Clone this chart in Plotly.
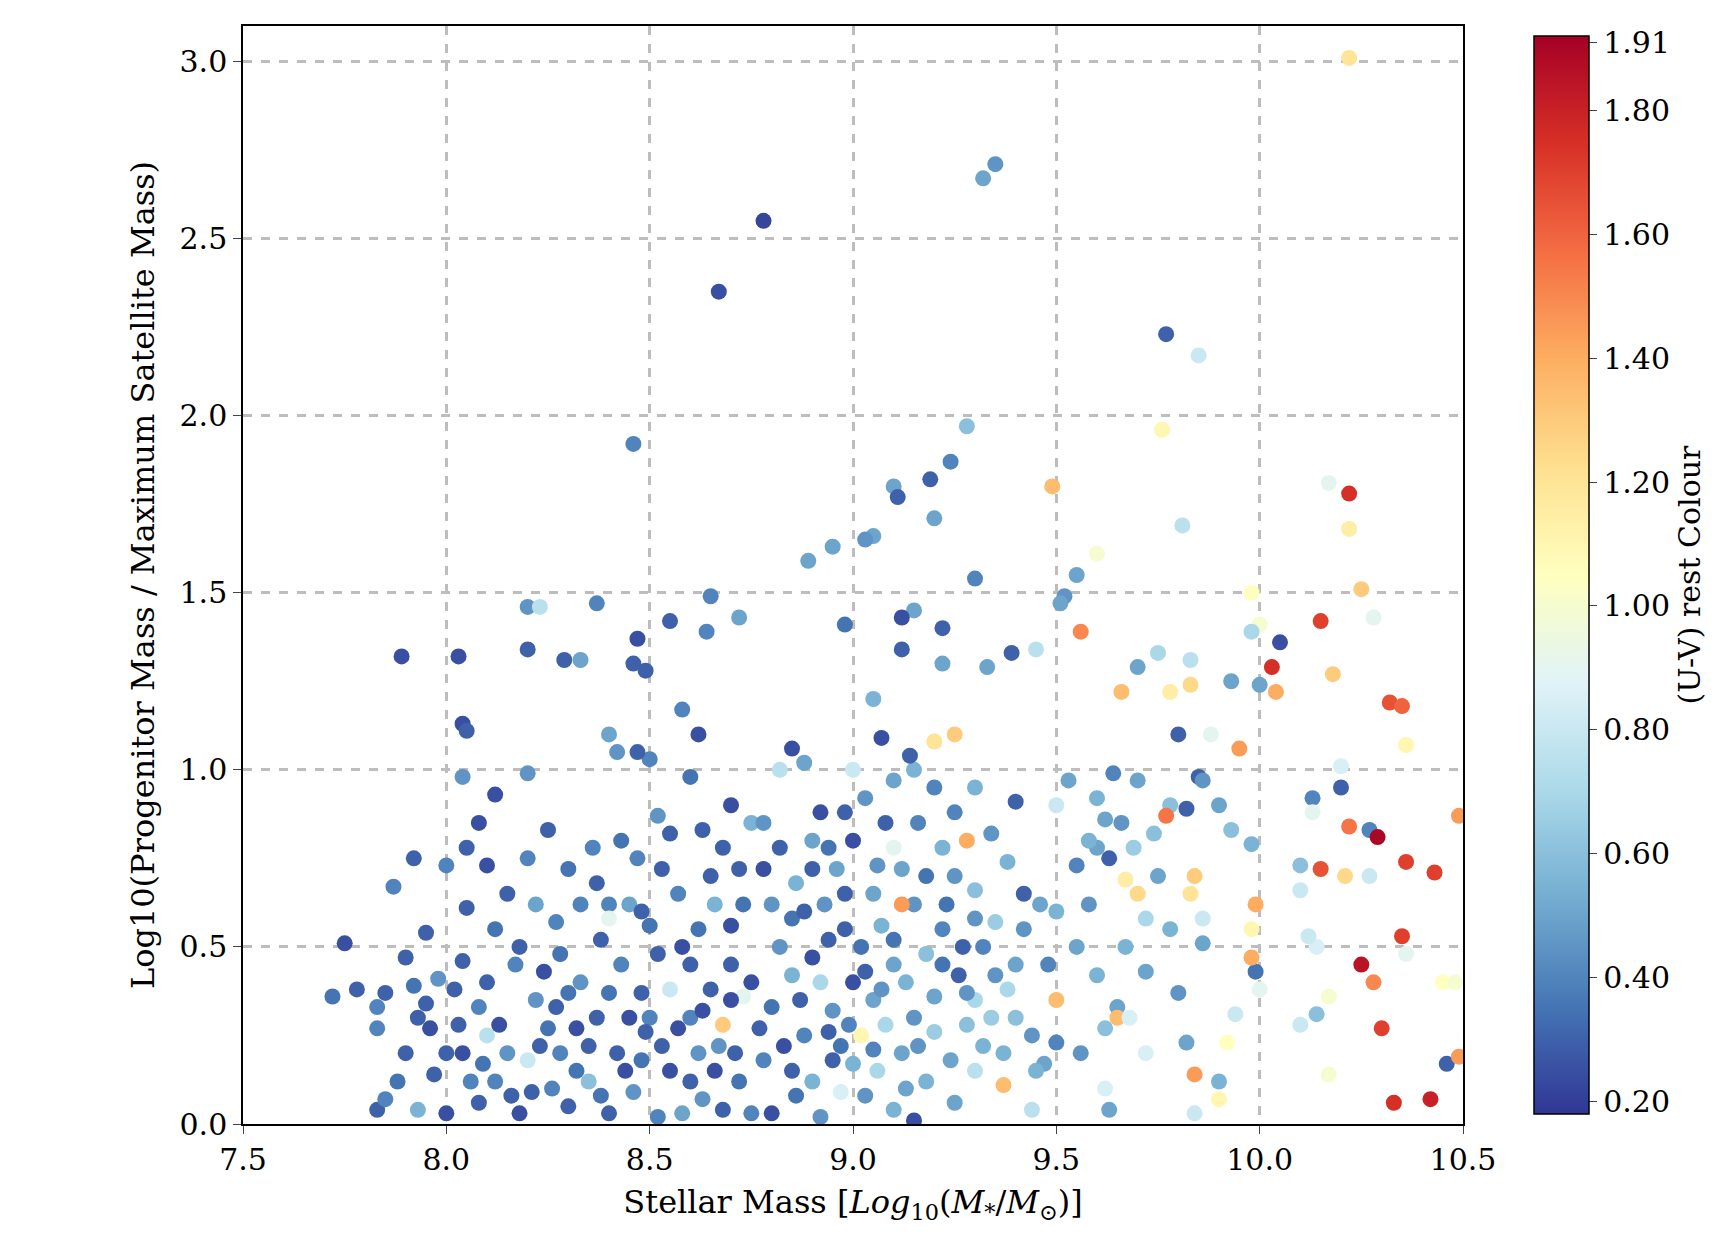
import plotly.graph_objects as go

# (stellar mass, log10 progenitor/sat mass ratio, U-V colour)
pts = [
(10.22,3.01,1.2),(9.35,2.71,0.45),(9.32,2.67,0.5),(8.78,2.55,0.22),(8.67,2.35,0.25),(9.77,2.23,0.3),(9.85,2.17,0.8),(8.46,1.92,0.4),(9.28,1.97,0.6),(9.76,1.96,1.1),
(9.24,1.87,0.4),(9.19,1.82,0.3),(9.1,1.8,0.5),(9.11,1.77,0.3),(10.22,1.78,1.75),(10.17,1.81,0.9),(9.2,1.71,0.5),(9.81,1.69,0.75),(10.22,1.68,1.15),(9.05,1.66,0.5),
(9.03,1.65,0.45),(8.95,1.63,0.5),(9.6,1.61,1.0),(8.89,1.59,0.5),(9.49,1.8,1.35),(9.3,1.54,0.4),(9.55,1.55,0.5),(9.15,1.45,0.5),(9.12,1.43,0.25),(8.98,1.41,0.35),
(8.65,1.49,0.4),(8.72,1.43,0.5),(8.37,1.47,0.4),(8.2,1.46,0.45),(8.23,1.46,0.75),(8.47,1.37,0.25),(8.55,1.42,0.3),(8.64,1.39,0.4),(8.2,1.34,0.3),(8.29,1.31,0.3),
(8.33,1.31,0.5),(8.46,1.3,0.3),(8.49,1.28,0.3),(7.89,1.32,0.25),(8.03,1.32,0.25),(9.22,1.4,0.3),(9.52,1.49,0.45),(9.51,1.47,0.5),(9.56,1.39,1.5),(9.45,1.34,0.75),
(9.39,1.33,0.3),(9.33,1.29,0.5),(9.22,1.3,0.5),(9.12,1.34,0.3),(10.05,1.36,0.25),(10.03,1.29,1.75),(10.15,1.42,1.7),(10.25,1.51,1.3),(10.28,1.43,0.9),(9.98,1.5,1.05),
(10.18,1.27,1.3),(10.0,1.41,1.0),(9.98,1.39,0.7),(10.0,1.24,0.5),(10.04,1.22,1.4),(9.93,1.25,0.5),(9.7,1.29,0.5),(9.75,1.33,0.7),(9.66,1.22,1.35),(9.83,1.31,0.75),
(9.83,1.24,1.25),(9.78,1.22,1.15),(10.32,1.19,1.65),(10.35,1.18,1.6),(10.36,1.07,1.1),(10.2,1.01,0.85),(10.2,0.95,0.3),(10.27,0.83,0.4),(10.29,0.81,1.9),(10.22,0.84,1.55),
(10.36,0.74,1.7),(10.43,0.71,1.7),(10.49,0.87,1.45),(10.15,0.72,1.65),(10.21,0.7,1.25),(10.27,0.7,0.8),(10.25,0.45,1.85),(10.28,0.4,1.5),(10.35,0.53,1.7),(10.36,0.48,0.9),
(10.3,0.27,1.7),(10.33,0.06,1.75),(10.42,0.07,1.8),(10.46,0.17,0.3),(10.49,0.19,1.45),(10.45,0.4,1.05),(10.48,0.4,1.0),(10.17,0.14,1.0),(10.17,0.36,1.0),(10.14,0.31,0.6),
(10.1,0.28,0.8),(10.14,0.5,0.85),(10.12,0.53,0.8),(10.1,0.66,0.8),(10.1,0.73,0.6),(10.13,0.92,0.4),(10.13,0.88,0.9),(9.99,0.43,0.35),(10.0,0.38,0.9),(9.98,0.47,1.4),
(9.99,0.62,1.4),(9.98,0.55,1.1),(9.98,0.79,0.55),(9.9,0.07,1.1),(9.94,0.31,0.8),(9.9,0.12,0.55),(9.92,0.23,1.05),(9.86,0.51,0.5),(9.86,0.58,0.8),(9.84,0.7,1.3),
(9.83,0.65,1.2),(9.8,0.37,0.45),(9.84,0.14,1.45),(9.84,0.03,0.8),(9.82,0.23,0.5),(9.85,0.98,0.3),(9.86,0.97,0.45),(9.9,0.9,0.5),(9.93,0.83,0.6),(9.95,1.06,1.45),
(9.88,1.1,0.9),(9.8,1.1,0.3),(9.82,0.89,0.3),(9.78,0.9,0.6),(9.77,0.87,1.55),(9.74,0.82,0.6),(9.7,0.97,0.5),(9.64,0.99,0.4),(9.66,0.85,0.45),(9.62,0.86,0.5),
(9.6,0.78,0.5),(9.58,0.8,0.55),(9.63,0.75,0.3),(9.67,0.69,1.15),(9.7,0.65,1.25),(9.72,0.58,0.7),(9.67,0.5,0.55),(9.72,0.43,0.5),(9.65,0.33,0.5),(9.62,0.27,0.6),
(9.63,0.04,0.5),(9.62,0.1,0.85),(9.65,0.3,1.35),(9.68,0.3,0.85),(9.72,0.2,0.85),(9.5,0.35,1.35),(9.48,0.45,0.4),(9.5,0.6,0.55),(9.5,0.9,0.8),(9.53,0.97,0.5),
(9.55,0.73,0.4),(9.5,0.23,0.4),(9.47,0.17,0.5),(9.45,0.15,0.55),(9.44,0.04,0.75),(9.37,0.11,1.35),(9.4,0.3,0.6),(9.42,0.55,0.45),(9.42,0.65,0.3),(9.38,0.74,0.55),
(9.4,0.91,0.3),(9.35,0.57,0.65),(9.3,0.66,0.6),(9.32,0.5,0.4),(9.3,0.35,0.7),(9.28,0.8,1.4),(9.25,0.88,0.4),(9.22,0.78,0.55),(9.2,0.95,0.4),(9.25,1.1,1.3),
(9.2,1.08,1.2),(9.15,1.0,0.55),(9.14,1.04,0.3),(9.1,0.97,0.5),(9.05,1.2,0.55),(9.07,1.09,0.25),(9.03,0.92,0.45),(9.0,1.0,0.8),(8.98,0.88,0.3),(9.0,0.8,0.25),
(8.96,0.72,0.5),(8.93,0.62,0.45),(8.92,0.88,0.25),(8.9,0.8,0.5),(8.86,0.68,0.55),(8.85,1.06,0.25),(8.88,1.02,0.5),(8.82,1.0,0.75),(8.78,0.72,0.25),(8.8,0.62,0.45),
(8.75,0.85,0.55),(8.7,0.9,0.25),(8.68,0.78,0.3),(8.7,0.56,0.25),(8.63,0.83,0.3),(8.6,0.98,0.35),(8.62,1.1,0.25),(8.58,1.17,0.4),(8.55,0.82,0.3),(8.52,0.87,0.45),
(8.5,1.03,0.4),(8.47,1.05,0.3),(8.42,1.05,0.45),(8.4,1.1,0.5),(8.47,0.75,0.4),(8.45,0.62,0.5),(8.4,0.62,0.4),(8.37,0.68,0.3),(8.33,0.62,0.4),(8.27,0.57,0.4),
(8.22,0.62,0.5),(8.2,0.75,0.4),(8.2,0.99,0.45),(8.12,0.93,0.25),(8.08,0.85,0.25),(8.04,1.13,0.25),(8.05,1.11,0.3),(8.04,0.98,0.45),(8.05,0.78,0.3),(8.1,0.73,0.25),
(8.0,0.73,0.4),(7.92,0.75,0.3),(7.87,0.67,0.4),(8.05,0.61,0.3),(7.95,0.54,0.3),(7.9,0.47,0.3),(7.75,0.51,0.25),(7.72,0.36,0.35),(7.78,0.38,0.3),(7.83,0.33,0.4),
(7.85,0.37,0.3),(7.83,0.04,0.3),(7.85,0.07,0.4),(7.83,0.27,0.4),(7.9,0.2,0.3),(7.93,0.04,0.55),(7.92,0.39,0.35),(7.95,0.34,0.3),(7.97,0.14,0.3),(7.98,0.41,0.45),
(8.02,0.38,0.3),(8.04,0.46,0.3),(8.03,0.28,0.3),(8.04,0.2,0.25),(8.06,0.12,0.4),(8.08,0.06,0.3),(8.0,0.03,0.25),(8.1,0.25,0.75),(8.12,0.12,0.4),(8.15,0.2,0.45),
(8.16,0.08,0.3),(8.2,0.18,0.8),(8.22,0.35,0.45),(8.24,0.43,0.25),(8.18,0.5,0.3),(8.17,0.45,0.4),(8.25,0.27,0.35),(8.28,0.2,0.4),(8.3,0.37,0.35),(8.33,0.4,0.45),
(8.35,0.22,0.3),(8.37,0.3,0.3),(8.3,0.05,0.3),(8.35,0.12,0.6),(8.38,0.08,0.35),(8.42,0.2,0.3),(8.45,0.3,0.25),(8.5,0.3,0.4),(8.52,0.48,0.3),(8.53,0.22,0.3),
(8.55,0.15,0.25),(8.52,0.02,0.4),(8.46,0.09,0.45),(8.48,0.37,0.3),(8.55,0.38,0.8),(8.58,0.5,0.25),(8.6,0.3,0.4),(8.62,0.2,0.45),(8.58,0.03,0.5),(8.63,0.07,0.45),
(8.65,0.38,0.3),(8.67,0.22,0.45),(8.68,0.28,1.3),(8.7,0.45,0.3),(8.72,0.12,0.35),(8.73,0.36,0.9),(8.75,0.03,0.4),(8.78,0.18,0.4),(8.8,0.33,0.35),(8.82,0.5,0.45),
(8.8,0.03,0.25),(8.85,0.15,0.3),(8.85,0.42,0.55),(8.88,0.25,0.4),(8.9,0.12,0.55),(8.92,0.02,0.45),(8.92,0.4,0.7),(8.95,0.32,0.45),(8.97,0.22,0.35),(8.98,0.55,0.3),
(8.97,0.09,0.85),(9.0,0.4,0.25),(9.02,0.25,1.1),(9.05,0.35,0.5),(9.03,0.08,0.45),(9.06,0.15,0.7),(9.07,0.56,0.55),(9.08,0.28,0.7),(9.1,0.45,0.5),(9.12,0.2,0.5),
(9.1,0.04,0.55),(9.15,0.3,0.45),(9.15,0.62,0.45),(9.18,0.48,0.6),(9.18,0.12,0.55),(9.2,0.26,0.65),(9.2,0.36,0.5),(9.22,0.55,0.4),(9.24,0.18,0.5),(9.26,0.42,0.3),
(9.25,0.7,0.45),(9.28,0.28,0.6),(9.3,0.15,0.75),(9.32,0.22,0.55),(9.35,0.42,0.45),(9.15,0.01,0.25),(9.12,0.72,0.5),(9.1,0.78,0.9),(9.12,0.62,1.45),(9.05,0.65,0.5),
(9.02,0.5,0.35),(8.4,0.58,0.9),(8.85,0.58,0.35),(8.5,0.56,0.35),(8.66,0.62,0.55),(8.9,0.72,0.3),(9.0,0.17,0.55),(8.75,0.4,0.25),(8.6,0.45,0.3),
# denser core
(8.27,0.33,0.3),(8.32,0.27,0.25),(8.4,0.37,0.35),(8.43,0.45,0.4),(8.38,0.52,0.3),(8.28,0.48,0.35),(8.23,0.22,0.3),(8.13,0.28,0.25),(8.18,0.03,0.25),(8.26,0.1,0.4),
(8.44,0.15,0.25),(8.49,0.26,0.3),(8.57,0.27,0.25),(8.63,0.32,0.25),(8.6,0.12,0.3),(8.66,0.15,0.25),(8.7,0.35,0.25),(8.77,0.27,0.3),(8.83,0.22,0.25),(8.87,0.35,0.3),
(8.9,0.47,0.25),(8.94,0.52,0.3),(8.95,0.18,0.3),(8.99,0.28,0.4),(9.03,0.43,0.3),(9.07,0.38,0.45),(9.1,0.52,0.35),(9.13,0.4,0.55),(9.16,0.22,0.45),(9.22,0.45,0.35),
(9.27,0.5,0.3),(9.23,0.62,0.35),(9.3,0.58,0.45),(9.34,0.3,0.65),(9.37,0.2,0.55),(9.4,0.45,0.5),(9.44,0.25,0.45),(9.46,0.62,0.5),(9.34,0.82,0.45),(9.3,0.95,0.55),
(9.16,0.85,0.4),(9.18,0.7,0.35),(9.08,0.85,0.3),(9.06,0.73,0.45),(8.98,0.65,0.3),(8.94,0.78,0.35),(8.88,0.6,0.3),(8.82,0.78,0.3),(8.78,0.85,0.45),(8.73,0.62,0.35),
(8.72,0.72,0.3),(8.65,0.7,0.3),(8.62,0.55,0.35),(8.57,0.65,0.4),(8.53,0.72,0.3),(8.48,0.6,0.3),(8.43,0.8,0.35),(8.36,0.78,0.4),(8.3,0.72,0.35),(8.25,0.83,0.3),
(8.15,0.65,0.3),(8.12,0.55,0.35),(8.1,0.4,0.3),(8.08,0.33,0.4),(8.0,0.2,0.3),(7.96,0.27,0.25),(7.88,0.12,0.35),(7.93,0.3,0.3),(8.09,0.17,0.35),(8.21,0.09,0.3),
(8.32,0.15,0.35),(8.4,0.03,0.3),(8.48,0.18,0.35),(8.68,0.04,0.3),(8.71,0.2,0.3),(8.86,0.08,0.35),(8.94,0.26,0.3),(9.05,0.21,0.4),(9.13,0.1,0.5),(9.25,0.06,0.5),
(9.28,0.37,0.45),(9.38,0.38,0.7),(9.55,0.5,0.5),(9.58,0.62,0.45),(9.6,0.42,0.55),(9.56,0.2,0.45),(9.75,0.7,0.5),(9.78,0.55,0.55),(9.6,0.92,0.55),(9.69,0.78,0.65),
]
mass = [p[0] for p in pts]
ratio = [p[1] for p in pts]
uv = [p[2] for p in pts]

cbar_ticks = [0.20, 0.40, 0.60, 0.80, 1.00, 1.20, 1.40, 1.60, 1.80, 1.91]

fig = go.Figure(go.Scatter(
    x=mass, y=ratio, mode="markers", cliponaxis=True,
    marker=dict(
        size=16, color=uv, colorscale="RdYlBu", reversescale=True,
        cmin=0.18, cmax=1.92,
        colorbar=dict(
            title=dict(text="(U-V) rest Colour", side="right", font=dict(size=30)),
            tickvals=cbar_ticks, ticktext=[f"{t:.2f}" for t in cbar_ticks],
            ticks="outside", ticklen=8, tickfont=dict(size=30),
            outlinecolor="black", outlinewidth=1.5,
            thickness=55, len=1.0, x=1.05, xanchor="left", y=0.5,
        ),
    ),
))

axis = dict(showline=True, linecolor="black", linewidth=1.5, mirror=True,
            ticks="outside", ticklen=8, tickfont=dict(size=30),
            gridcolor="#bdbdbd", griddash="dash", gridwidth=2.5, zeroline=False)
fig.update_xaxes(axis, range=[7.5, 10.5], dtick=0.5, tickformat=".1f",
                 title=dict(text="Stellar Mass [<i>Log</i><sub>10</sub>(<i>M</i><sub>*</sub>/<i>M</i><sub>⊙</sub>)]",
                            font=dict(size=32)))
fig.update_yaxes(axis, range=[0, 3.1], dtick=0.5, tickformat=".1f",
                 title=dict(text="Log10(Progenitor Mass / Maximum Satellite Mass)", font=dict(size=32)))
fig.update_layout(
    width=1722, height=1256, showlegend=False,
    plot_bgcolor="white", paper_bgcolor="white",
    font=dict(family="DejaVu Serif", color="black"),
    margin=dict(l=235, r=260, t=18, b=140),
)
fig.write_html("out.html")
